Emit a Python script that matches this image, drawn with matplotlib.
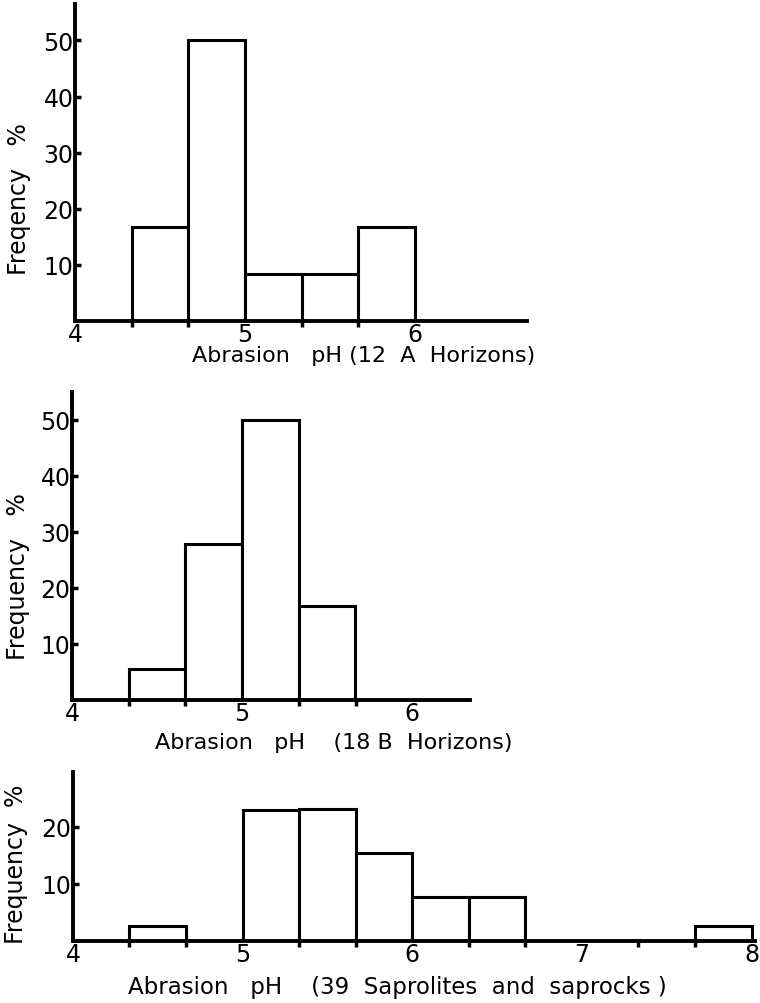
import matplotlib.pyplot as plt

# bin left edges (pH) and frequency (%) for each panel
bins_a = [4.333, 4.667, 5.0, 5.333, 5.667]
freq_a = [16.7, 50.0, 8.3, 8.3, 16.7]

bins_b = [4.333, 4.667, 5.0, 5.333]
freq_b = [5.6, 27.8, 50.0, 16.7]

bins_c = [4.333, 5.0, 5.333, 5.667, 6.0, 6.333, 7.667]
freq_c = [2.6, 23.0, 23.1, 15.4, 7.7, 7.7, 2.6]

ticks_a = [4, 5, 6]
ticks_b = [4, 5, 6]
ticks_c = [4, 5, 6, 7, 8]

plt.rcParams['font.family'] = ['DejaVu Sans']

fig = plt.figure(figsize=(7.6, 10.04), dpi=100)


def panel(rect, bins, freq, xlim, ylim, yticks, xticks, minor, xlabel, xlab_pos, xlab_size,
          ylabel, ylab_pos):
    ax = fig.add_axes(rect)
    ax.bar(bins, freq, width=1/3, align='edge', color='white', edgecolor='black', linewidth=2.2, zorder=2)
    ax.set_xlim(*xlim)
    ax.set_ylim(*ylim)
    for s in ['top', 'right']:
        ax.spines[s].set_visible(False)
    for s in ['left', 'bottom']:
        ax.spines[s].set_linewidth(2.8)
        ax.spines[s].set_zorder(3)
    ax.set_xticks(xticks)
    ax.set_xticklabels([str(t) for t in xticks], fontsize=17)
    ax.set_xticks(minor, minor=True)
    ax.tick_params(axis='x', which='major', length=0, pad=1)
    ax.tick_params(axis='x', which='minor', length=4, width=2.5, direction='out')
    ax.set_yticks(yticks)
    ax.set_yticklabels([str(t) for t in yticks], fontsize=17)
    ax.tick_params(axis='y', length=4, width=2.5, direction='in', pad=1)
    ax.patch.set_alpha(0)
    fig.text(xlab_pos[0], xlab_pos[1], xlabel, fontsize=xlab_size, ha='left', va='center')
    fig.text(ylab_pos[0], ylab_pos[1], ylabel, fontsize=17, rotation=90, ha='center', va='center')
    return ax


panel([75/760, 1 - 322/1004, 452/760, 317/1004], bins_a, freq_a, (4, 6.66), (0, 56.5),
      [10, 20, 30, 40, 50], ticks_a, [4.333, 4.667, 5.0, 5.333, 5.667, 6.0],
      'Abrasion   pH (12  A  Horizons)', (192/760, 1 - 356/1004), 16,
      'Freqency   %', (19/760, 1 - 199/1004))

panel([72/760, 1 - 701/1004, 398/760, 308/1004], bins_b, freq_b, (4, 6.34), (0, 55),
      [10, 20, 30, 40, 50], ticks_b, [4.333, 4.667, 5.0, 5.333, 5.667, 6.0],
      'Abrasion   pH    (18 B  Horizons)', (155/760, 1 - 743/1004), 16,
      'Frequency   %', (18/760, 1 - 577/1004))

panel([73/760, 1 - 942/1004, 682/760, 169/1004], bins_c, freq_c, (4, 8.02), (0, 29.6),
      [10, 20], ticks_c,
      [4.333, 4.667, 5.0, 5.333, 5.667, 6.0, 6.333, 6.667, 7.0, 7.333, 7.667, 8.0],
      'Abrasion   pH    (39  Saprolites  and  saprocks )', (128/760, 1 - 988/1004), 16.5,
      'Frequency  %', (16/760, 1 - 864/1004))

fig.savefig('out.png', dpi=100)
